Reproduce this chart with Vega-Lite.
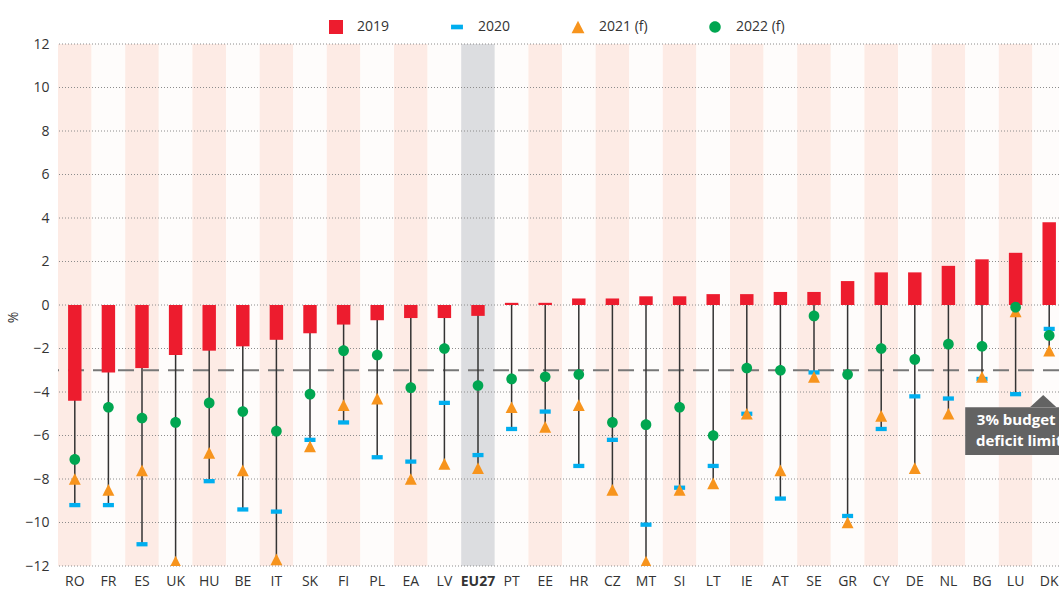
{
  "$schema": "https://vega.github.io/schema/vega-lite/v6.json",
  "width": 1001,
  "height": 522,
  "autosize": {"type": "none"},
  "padding": {"left": 58, "top": 44, "right": 0, "bottom": 24},
  "background": "white",
  "config": {"view": {"stroke": null}, "font": "Open Sans"},
  "datasets": {
    "d": [
      {"c":"RO","s":"2019","v":-4.4},{"c":"RO","s":"2020","v":-9.2},{"c":"RO","s":"2021 (f)","v":-8.0},{"c":"RO","s":"2022 (f)","v":-7.1},
      {"c":"FR","s":"2019","v":-3.1},{"c":"FR","s":"2020","v":-9.2},{"c":"FR","s":"2021 (f)","v":-8.5},{"c":"FR","s":"2022 (f)","v":-4.7},
      {"c":"ES","s":"2019","v":-2.9},{"c":"ES","s":"2020","v":-11.0},{"c":"ES","s":"2021 (f)","v":-7.6},{"c":"ES","s":"2022 (f)","v":-5.2},
      {"c":"UK","s":"2019","v":-2.3},{"c":"UK","s":"2020","v":-12.4},{"c":"UK","s":"2021 (f)","v":-11.8},{"c":"UK","s":"2022 (f)","v":-5.4},
      {"c":"HU","s":"2019","v":-2.1},{"c":"HU","s":"2020","v":-8.1},{"c":"HU","s":"2021 (f)","v":-6.8},{"c":"HU","s":"2022 (f)","v":-4.5},
      {"c":"BE","s":"2019","v":-1.9},{"c":"BE","s":"2020","v":-9.4},{"c":"BE","s":"2021 (f)","v":-7.6},{"c":"BE","s":"2022 (f)","v":-4.9},
      {"c":"IT","s":"2019","v":-1.6},{"c":"IT","s":"2020","v":-9.5},{"c":"IT","s":"2021 (f)","v":-11.7},{"c":"IT","s":"2022 (f)","v":-5.8},
      {"c":"SK","s":"2019","v":-1.3},{"c":"SK","s":"2020","v":-6.2},{"c":"SK","s":"2021 (f)","v":-6.5},{"c":"SK","s":"2022 (f)","v":-4.1},
      {"c":"FI","s":"2019","v":-0.9},{"c":"FI","s":"2020","v":-5.4},{"c":"FI","s":"2021 (f)","v":-4.6},{"c":"FI","s":"2022 (f)","v":-2.1},
      {"c":"PL","s":"2019","v":-0.7},{"c":"PL","s":"2020","v":-7.0},{"c":"PL","s":"2021 (f)","v":-4.3},{"c":"PL","s":"2022 (f)","v":-2.3},
      {"c":"EA","s":"2019","v":-0.6},{"c":"EA","s":"2020","v":-7.2},{"c":"EA","s":"2021 (f)","v":-8.0},{"c":"EA","s":"2022 (f)","v":-3.8},
      {"c":"LV","s":"2019","v":-0.6},{"c":"LV","s":"2020","v":-4.5},{"c":"LV","s":"2021 (f)","v":-7.3},{"c":"LV","s":"2022 (f)","v":-2.0},
      {"c":"EU27","s":"2019","v":-0.5},{"c":"EU27","s":"2020","v":-6.9},{"c":"EU27","s":"2021 (f)","v":-7.5},{"c":"EU27","s":"2022 (f)","v":-3.7},
      {"c":"PT","s":"2019","v":0.1},{"c":"PT","s":"2020","v":-5.7},{"c":"PT","s":"2021 (f)","v":-4.7},{"c":"PT","s":"2022 (f)","v":-3.4},
      {"c":"EE","s":"2019","v":0.1},{"c":"EE","s":"2020","v":-4.9},{"c":"EE","s":"2021 (f)","v":-5.6},{"c":"EE","s":"2022 (f)","v":-3.3},
      {"c":"HR","s":"2019","v":0.3},{"c":"HR","s":"2020","v":-7.4},{"c":"HR","s":"2021 (f)","v":-4.6},{"c":"HR","s":"2022 (f)","v":-3.2},
      {"c":"CZ","s":"2019","v":0.3},{"c":"CZ","s":"2020","v":-6.2},{"c":"CZ","s":"2021 (f)","v":-8.5},{"c":"CZ","s":"2022 (f)","v":-5.4},
      {"c":"MT","s":"2019","v":0.4},{"c":"MT","s":"2020","v":-10.1},{"c":"MT","s":"2021 (f)","v":-11.8},{"c":"MT","s":"2022 (f)","v":-5.5},
      {"c":"SI","s":"2019","v":0.4},{"c":"SI","s":"2020","v":-8.4},{"c":"SI","s":"2021 (f)","v":-8.5},{"c":"SI","s":"2022 (f)","v":-4.7},
      {"c":"LT","s":"2019","v":0.5},{"c":"LT","s":"2020","v":-7.4},{"c":"LT","s":"2021 (f)","v":-8.2},{"c":"LT","s":"2022 (f)","v":-6.0},
      {"c":"IE","s":"2019","v":0.5},{"c":"IE","s":"2020","v":-5.0},{"c":"IE","s":"2021 (f)","v":-5.0},{"c":"IE","s":"2022 (f)","v":-2.9},
      {"c":"AT","s":"2019","v":0.6},{"c":"AT","s":"2020","v":-8.9},{"c":"AT","s":"2021 (f)","v":-7.6},{"c":"AT","s":"2022 (f)","v":-3.0},
      {"c":"SE","s":"2019","v":0.6},{"c":"SE","s":"2020","v":-3.1},{"c":"SE","s":"2021 (f)","v":-3.3},{"c":"SE","s":"2022 (f)","v":-0.5},
      {"c":"GR","s":"2019","v":1.1},{"c":"GR","s":"2020","v":-9.7},{"c":"GR","s":"2021 (f)","v":-10.0},{"c":"GR","s":"2022 (f)","v":-3.2},
      {"c":"CY","s":"2019","v":1.5},{"c":"CY","s":"2020","v":-5.7},{"c":"CY","s":"2021 (f)","v":-5.1},{"c":"CY","s":"2022 (f)","v":-2.0},
      {"c":"DE","s":"2019","v":1.5},{"c":"DE","s":"2020","v":-4.2},{"c":"DE","s":"2021 (f)","v":-7.5},{"c":"DE","s":"2022 (f)","v":-2.5},
      {"c":"NL","s":"2019","v":1.8},{"c":"NL","s":"2020","v":-4.3},{"c":"NL","s":"2021 (f)","v":-5.0},{"c":"NL","s":"2022 (f)","v":-1.8},
      {"c":"BG","s":"2019","v":2.1},{"c":"BG","s":"2020","v":-3.4},{"c":"BG","s":"2021 (f)","v":-3.3},{"c":"BG","s":"2022 (f)","v":-1.9},
      {"c":"LU","s":"2019","v":2.4},{"c":"LU","s":"2020","v":-4.1},{"c":"LU","s":"2021 (f)","v":-0.3},{"c":"LU","s":"2022 (f)","v":-0.1},
      {"c":"DK","s":"2019","v":3.8},{"c":"DK","s":"2020","v":-1.1},{"c":"DK","s":"2021 (f)","v":-2.1},{"c":"DK","s":"2022 (f)","v":-1.4}
    ],
    "grid": [{"g":-12},{"g":-10},{"g":-8},{"g":-6},{"g":-4},{"g":-2},{"g":0},{"g":2},{"g":4},{"g":6},{"g":8},{"g":10},{"g":12}]
  },
  "data": {"name": "d"},
  "layer": [
    {
      "transform": [{"filter": "datum.s === '2019'"}, {"window": [{"op": "row_number", "as": "idx"}]}],
      "mark": {"type": "rect"},
      "encoding": {
        "x": {
          "field": "c", "type": "nominal", "sort": null,
          "scale": {"range": [0, 1008], "paddingInner": 0, "paddingOuter": 0},
          "axis": {
            "title": null, "domain": false, "ticks": false, "grid": false, "labelPadding": 8,
            "labelFontSize": 14, "labelColor": "#333333", "labelAngle": 0, "labelFont": "Open Sans",
            "labelFontWeight": {"condition": {"test": "datum.value === 'EU27'", "value": "bold"}, "value": "normal"}
          }
        },
        "y": {
          "datum": 12, "type": "quantitative",
          "scale": {"domain": [-12, 12], "nice": false, "zero": false},
          "axis": {
            "title": "%", "values": [-12,-10,-8,-6,-4,-2,0,2,4,6,8,10,12], "grid": false, "domain": false, "ticks": false,
            "labelPadding": 9, "labelFontSize": 14, "labelColor": "#333333", "titleFontSize": 14,
            "titleFontWeight": "normal", "titleColor": "#333333", "titlePadding": 4, "titleY": 273,
            "labelFont": "Open Sans", "titleFont": "Open Sans"
          }
        },
        "y2": {"datum": -12},
        "fill": {
          "condition": [
            {"test": "datum.c === 'EU27'", "value": "#dcdde0"},
            {"test": "datum.idx % 2 === 1", "value": "#fdebe5"}
          ],
          "value": "#fefcfb"
        }
      }
    },
    {
      "data": {"name": "grid"},
      "mark": {"type": "rule", "stroke": "#8c8c8c", "strokeWidth": 1, "strokeDash": [1, 2]},
      "encoding": {"y": {"field": "g", "type": "quantitative"}}
    },
    {
      "data": {"values": [{"limit": -3}]},
      "mark": {"type": "rule", "stroke": "#777777", "strokeWidth": 2, "strokeDash": [16, 9]},
      "encoding": {"y": {"field": "limit", "type": "quantitative"}}
    },
    {
      "transform": [{"aggregate": [{"op": "min", "field": "v", "as": "lo"}], "groupby": ["c"]}],
      "mark": {"type": "rule", "stroke": "#333333", "strokeWidth": 1.5, "clip": true},
      "encoding": {
        "x": {"field": "c", "type": "nominal", "sort": null},
        "y": {"field": "lo", "type": "quantitative"},
        "y2": {"datum": 0}
      }
    },
    {
      "transform": [{"filter": "datum.s === '2019'"}],
      "mark": {"type": "bar", "width": {"band": 0.4}},
      "encoding": {
        "x": {"field": "c", "type": "nominal", "sort": null},
        "y": {"field": "v", "type": "quantitative"},
        "y2": {"datum": 0},
        "color": {
          "field": "s", "type": "nominal",
          "scale": {"domain": ["2019", "2020", "2021 (f)", "2022 (f)"], "range": ["#ed1c2e", "#00aeef", "#f7941d", "#00a651"]},
          "legend": {
            "title": null, "orient": "none", "legendX": 271, "legendY": -24, "direction": "horizontal",
            "labelFontSize": 14, "labelOffset": 14, "columnPadding": 60, "symbolSize": 196, "padding": 0,
            "labelColor": "#333333", "symbolStrokeWidth": 0, "labelFont": "Open Sans"
          }
        }
      }
    },
    {
      "transform": [{"filter": "datum.s !== '2019'"}],
      "mark": {"type": "point", "filled": true, "size": 169, "opacity": 1, "strokeWidth": 0, "clip": true},
      "encoding": {
        "x": {"field": "c", "type": "nominal", "sort": null},
        "y": {"field": "v", "type": "quantitative"},
        "color": {"field": "s", "type": "nominal"},
        "shape": {
          "field": "s", "type": "nominal",
          "scale": {
            "domain": ["2019", "2020", "2021 (f)", "2022 (f)"],
            "range": [
              "square",
              "M-0.85,-0.33L0.85,-0.33L0.85,0.33L-0.85,0.33Z",
              "M0,-0.9L0.92,0.9L-0.92,0.9Z",
              "M0.82,0A0.82,0.82,0,1,1,-0.82,0A0.82,0.82,0,1,1,0.82,0Z"
            ]
          },
          "legend": {
            "title": null, "orient": "none", "legendX": 271, "legendY": -24, "direction": "horizontal",
            "labelFontSize": 14, "labelOffset": 14, "columnPadding": 60, "symbolSize": 196, "padding": 0,
            "labelColor": "#333333", "symbolStrokeWidth": 0, "labelFont": "Open Sans"
          }
        }
      }
    },
    {
      "data": {"values": [{"note": "3% budget deficit limit"}]},
      "mark": {"type": "bar", "width": 110, "xOffset": -29, "color": "#636363"},
      "encoding": {
        "x": {"datum": "DK", "type": "nominal"},
        "y": {"datum": -4.7, "type": "quantitative"},
        "y2": {"datum": -6.9}
      }
    },
    {
      "data": {"values": [{"note": "3% budget deficit limit"}]},
      "mark": {"type": "point", "filled": true, "size": 676, "opacity": 1, "strokeWidth": 0, "xOffset": -6, "color": "#636363", "shape": "M-1,0.46L0,-0.46L1,0.46Z"},
      "encoding": {
        "x": {"datum": "DK", "type": "nominal"},
        "y": {"datum": -4.41, "type": "quantitative"}
      }
    },
    {
      "data": {"values": [{"note": "3% budget"}]},
      "mark": {"type": "text", "dx": -33, "align": "center", "baseline": "middle", "fontSize": 15, "fontWeight": "bold", "color": "#ffffff", "font": "Open Sans"},
      "encoding": {
        "x": {"datum": "DK", "type": "nominal"},
        "y": {"datum": -5.29, "type": "quantitative"},
        "text": {"field": "note"}
      }
    },
    {
      "data": {"values": [{"note": "deficit limit"}]},
      "mark": {"type": "text", "dx": -30, "align": "center", "baseline": "middle", "fontSize": 15, "fontWeight": "bold", "color": "#ffffff", "font": "Open Sans"},
      "encoding": {
        "x": {"datum": "DK", "type": "nominal"},
        "y": {"datum": -6.25, "type": "quantitative"},
        "text": {"field": "note"}
      }
    }
  ]
}
